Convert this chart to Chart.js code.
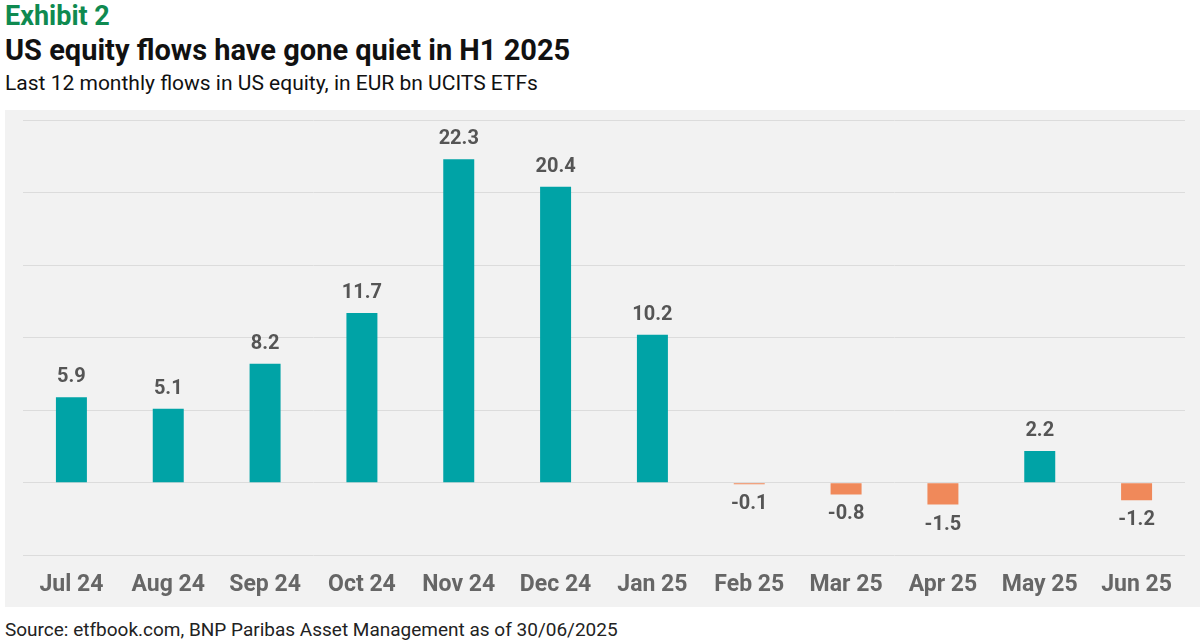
<!DOCTYPE html>
<html><head><meta charset="utf-8">
<script src="https://cdn.jsdelivr.net/npm/chart.js@4"></script>
<style>
  body{margin:0;width:1202px;height:643px;background:#fff;font-family:"Liberation Sans Narrow","Roboto",sans-serif;overflow:hidden}
  .ex{position:absolute;left:5px;top:0px;font-size:27px;font-weight:bold;color:#0f8a50}
  .ti{position:absolute;left:5px;top:33px;font-size:29px;font-weight:bold;color:#111}
  .su{position:absolute;left:5px;top:71px;font-size:21px;color:#111}
  .box{position:absolute;left:5px;top:110px;width:1195px;height:497px;background:#f2f2f2}
  .src{position:absolute;left:5px;top:618px;font-size:19px;color:#222}
</style></head><body>
<div class="ex">Exhibit 2</div>
<div class="ti">US equity flows have gone quiet in H1 2025</div>
<div class="su">Last 12 monthly flows in US equity, in EUR bn UCITS ETFs</div>
<div class="box"><canvas id="c" width="1195" height="497"></canvas></div>
<div class="src">Source: etfbook.com, BNP Paribas Asset Management as of 30/06/2025</div>
<script>
const labels = ['Jul 24','Aug 24','Sep 24','Oct 24','Nov 24','Dec 24','Jan 25','Feb 25','Mar 25','Apr 25','May 25','Jun 25'];
const flows  = [5.9, 5.1, 8.2, 11.7, 22.3, 20.4, 10.2, -0.1, -0.8, -1.5, 2.2, -1.2];
const FONT = '"Liberation Sans Narrow","Roboto",sans-serif';

const valueLabels = {
  id: 'valueLabels',
  afterDatasetsDraw(chart) {
    const ctx = chart.ctx;
    const meta = chart.getDatasetMeta(0);
    ctx.save();
    ctx.font = 'bold 20px ' + FONT;
    ctx.fillStyle = '#555';
    ctx.textAlign = 'center';
    meta.data.forEach((bar, i) => {
      const v = flows[i];
      if (v >= 0) { ctx.textBaseline = 'bottom'; ctx.fillText(v.toFixed(1), bar.x, bar.y - 10); }
      else { ctx.textBaseline = 'top'; ctx.fillText(v.toFixed(1), bar.x, Math.max(bar.y, chart.scales.y.getPixelForValue(0)) + 10); }
    });
    ctx.restore();
  }
};

new Chart(document.getElementById('c'), {
  type: 'bar',
  data: { labels, datasets: [{
    data: flows,
    backgroundColor: flows.map(v => v >= 0 ? '#00a3a6' : '#f0895a'),
    barPercentage: 0.32, categoryPercentage: 1
  }]},
  options: {
    responsive: false, animation: false,
    layout: { padding: { left: 18, right: 15, top: 10, bottom: 0 } },
    plugins: { legend: { display: false }, tooltip: { enabled: false } },
    scales: {
      x: {
        grid: { display: false }, border: { display: false },
        ticks: { color: '#666', font: { family: FONT, size: 23, weight: 'bold' }, padding: 8 }
      },
      y: {
        min: -5, max: 25,
        ticks: { display: false, stepSize: 5 },
        border: { display: false },
        grid: { color: '#dcdcdc', drawTicks: false }
      }
    }
  },
  plugins: [valueLabels]
});
</script>
</body></html>
